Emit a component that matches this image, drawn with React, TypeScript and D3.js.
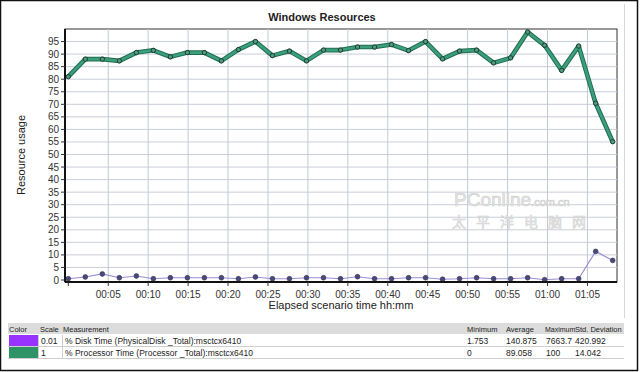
import React from 'react';
import * as d3 from 'd3';

// elapsed minutes of each sample
const minutes = [0, 2.13, 4.26, 6.39, 8.52, 10.65, 12.78, 14.91, 17.04, 19.17, 21.3, 23.43, 25.56, 27.69, 29.82, 31.95,
  34.08, 36.21, 38.34, 40.47, 42.6, 44.73, 46.86, 48.99, 51.12, 53.25, 55.38, 57.51, 59.64, 61.77, 63.9, 66.03, 68.16];

const processorTime = [81, 88, 88, 87.3, 90.6, 91.5, 88.9, 90.6, 90.6, 87.3, 91.8, 95, 89.4, 91.2, 87.3, 91.6,
  91.6, 92.8, 92.8, 93.8, 91.4, 95, 88.1, 91.2, 91.6, 86.5, 88.5, 98.8, 93.5, 83.5, 93.2, 70.4, 55.1];

const diskTime = [0.5, 1.2, 2.4, 0.9, 1.6, 0.5, 0.9, 0.9, 0.9, 0.9, 0.5, 1.2, 0.5, 0.5, 0.9, 0.9,
  0.5, 1.3, 0.5, 0.5, 0.9, 0.9, 0.3, 0.5, 0.9, 0.5, 0.5, 0.9, 0.1, 0.5, 0.5, 11.4, 7.8];

const yTicks = [0, 5, 10, 15, 20, 25, 30, 35, 40, 45, 50, 55, 60, 65, 70, 75, 80, 85, 90, 95];
const xTicks = [0, 5, 10, 15, 20, 25, 30, 35, 40, 45, 50, 55, 60, 65];
const xTickLabels = ['', '00:05', '00:10', '00:15', '00:20', '00:25', '00:30', '00:35', '00:40', '00:45', '00:50', '00:55', '01:00', '01:05'];

const legendColors = ['#9933ff', '#2e9468'];
const legendScales = ['0.01', '1'];
const legendNames = ['% Disk Time (PhysicalDisk _Total):msctcx6410', '% Processor Time (Processor _Total):msctcx6410'];
const legendMin = ['1.753', '0'];
const legendAvg = ['140.875', '89.058'];
const legendMax = ['7663.7', '100'];
const legendStd = ['420.992', '14.042'];
const headers = ['Color', 'Scale', 'Measurement', 'Minimum', 'Average', 'Maximum', 'Std. Deviation'];

const font = '"Liberation Sans", Arial, sans-serif';

const App = () => {
  const plot = { left: 65, right: 617, top: 29, bottom: 282 };

  const x = d3.scaleLinear().domain([0, 68.7]).range([68.3, plot.right]);
  const y = d3.scaleLinear().domain([0, 100]).range([280, plot.top]);

  const line = d3.line<number>()
    .x((_, i) => x(minutes[i]))
    .y(d => y(d));

  const cols = [9, 40, 63, 467, 506, 545, 575];

  return (
    <svg width={640} height={372} style={{ position: 'absolute', left: 0, top: 0, background: '#fff' }} fontFamily={font}>
      <rect x={0.5} y={0.5} width={637} height={370} fill="#fff" stroke="#111" strokeWidth={1.5} />
      <line x1={624.5} y1={4} x2={624.5} y2={318} stroke="#d8d8d8" />

      <text x={322} y={21} textAnchor="middle" fontSize={11} fontWeight="bold" fill="#222">Windows Resources</text>

      {/* plot frame and grid */}
      <rect x={plot.left} y={plot.top} width={plot.right - plot.left} height={plot.bottom - plot.top} fill="#fff" stroke="#333" />
      {yTicks.filter(t => t > 0).map(t => (
        <line key={'gy' + t} x1={plot.left} x2={plot.right} y1={y(t)} y2={y(t)} stroke="#c9cfd8" />
      ))}
      {xTicks.filter(t => t > 0).map(t => (
        <line key={'gx' + t} x1={x(t)} x2={x(t)} y1={plot.top} y2={plot.bottom} stroke="#c3cad6" />
      ))}

      {/* watermark */}
      <text x={454} y={206} fontSize={19} fill="#e6e6e6" stroke="#d0d0d0" strokeWidth={0.6}>
        PConline<tspan fontSize={11}>.com.cn</tspan>
      </text>
      <text x={452} y={227} fontSize={14} letterSpacing={10} fill="#e8e8e8" stroke="#d2d2d2" strokeWidth={0.5} fontFamily='"Noto Sans CJK SC", sans-serif'>太平洋电脑网</text>

      {/* disk time */}
      <path d={line(diskTime) ?? ''} fill="none" stroke="#9a8ed6" strokeWidth={1.2} />
      {diskTime.map((d, i) => (
        <circle key={'d' + i} cx={x(minutes[i])} cy={y(d)} r={2.4} fill="#4a4a78" stroke="#2e2e55" strokeWidth={0.6} />
      ))}

      {/* processor time */}
      <path d={line(processorTime) ?? ''} fill="none" stroke="#1f6e52" strokeWidth={4.6} strokeLinejoin="round" />
      <path d={line(processorTime) ?? ''} fill="none" stroke="#3c9e7b" strokeWidth={2.6} strokeLinejoin="round" />
      {processorTime.map((d, i) => (
        <circle key={'p' + i} cx={x(minutes[i])} cy={y(d)} r={2.2} fill="#4f9c80" stroke="#1d3b30" strokeWidth={1} />
      ))}

      {/* axes */}
      <line x1={plot.left} x2={plot.left} y1={plot.top} y2={plot.bottom} stroke="#111" strokeWidth={2} />
      <line x1={plot.left} x2={plot.right} y1={plot.bottom} y2={plot.bottom} stroke="#111" strokeWidth={2} />
      {yTicks.map(t => (
        <g key={'yt' + t}>
          <line x1={plot.left - 4} x2={plot.left} y1={y(t)} y2={y(t)} stroke="#333" />
          <text x={plot.left - 6} y={y(t)} dy="0.35em" textAnchor="end" fontSize={10} fill="#333">{t}</text>
        </g>
      ))}
      {xTicks.map((t, i) => (
        <g key={'xt' + t}>
          <line x1={x(t)} x2={x(t)} y1={plot.bottom} y2={plot.bottom + 4} stroke="#333" />
          <text x={x(t)} y={298} textAnchor="middle" fontSize={10} fill="#333">{xTickLabels[i]}</text>
        </g>
      ))}

      <text transform="translate(25,155) rotate(-90)" textAnchor="middle" fontSize={11} fill="#222">Resource usage</text>
      <text x={341} y={309} textAnchor="middle" fontSize={11} fill="#222">Elapsed scenario time hh:mm</text>

      {/* legend table */}
      <rect x={8} y={323} width={616} height={11} fill="#dcdcdc" />
      {headers.map((h, i) => (
        <text key={h} x={cols[i]} y={331.5} fontSize={h === 'Maximum' ? 7 : 7.5} fill="#222">{h}</text>
      ))}
      {legendNames.map((name, r) => {
        const top = 335 + r * 12;
        return (
          <g key={name}>
            <rect x={9} y={top} width={29} height={11} fill={legendColors[r]} />
            <line x1={8} x2={624} y1={top + 11.5} y2={top + 11.5} stroke="#cfcfcf" />
            <line x1={38.5} x2={38.5} y1={top} y2={top + 11} stroke="#cfcfcf" />
            <line x1={62.5} x2={62.5} y1={top} y2={top + 11} stroke="#cfcfcf" />
            <text x={cols[1] + 1} y={top + 8.5} fontSize={8.5} fill="#222">{legendScales[r]}</text>
            <text x={cols[2] + 2} y={top + 8.5} fontSize={8.5} fill="#222">{name}</text>
            <text x={cols[3]} y={top + 8.5} fontSize={8.5} fill="#222">{legendMin[r]}</text>
            <text x={cols[4]} y={top + 8.5} fontSize={8.5} fill="#222">{legendAvg[r]}</text>
            <text x={cols[5] + 1} y={top + 8.5} fontSize={8.5} fill="#222">{legendMax[r]}</text>
            <text x={cols[6]} y={top + 8.5} fontSize={8.5} fill="#222">{legendStd[r]}</text>
          </g>
        );
      })}
    </svg>
  );
};

export default App;
